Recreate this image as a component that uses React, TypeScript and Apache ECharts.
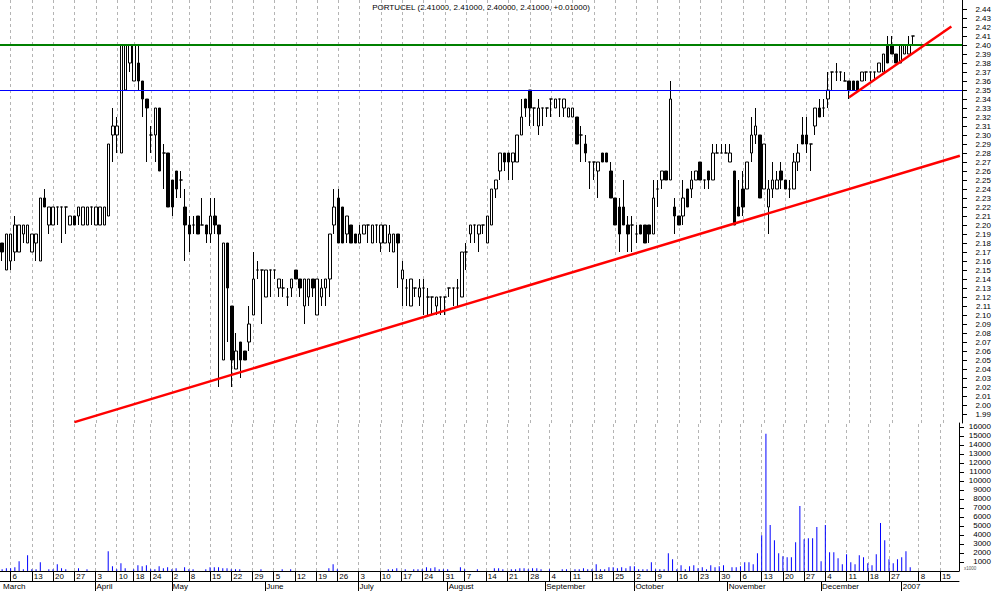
import React, { useEffect, useRef } from "react";
import * as echarts from "echarts";

const TITLE = "PORTUCEL (2.41000, 2.41000, 2.40000, 2.41000, +0.01000)";
const FIRST_DAY = "2006-03-02";
const LAST_DAY = "2007-01-19";
const HOLIDAYS = ["2006-04-14", "2006-04-17", "2006-05-01", "2006-12-25", "2006-12-26", "2007-01-01"];
const MONTH_NAMES = ["January", "February", "March", "April", "May", "June", "July", "August", "September", "October", "November", "December"];

const openP = [
  2.18,2.15,2.16,2.17,2.17,2.19,2.18,2.17,2.18,2.16,
  2.23,2.20,2.20,2.22,2.22,2.22,2.20,2.21,2.21,2.20,
  2.20,2.22,2.20,2.20,2.20,2.21,2.30,2.30,2.28,2.35,
  2.38,2.36,2.38,2.36,2.34,2.30,2.30,2.33,2.28,2.28,
  2.25,2.26,2.25,2.22,2.20,2.20,2.21,2.20,2.20,2.19,
  2.21,2.20,2.05,2.18,2.11,2.04,2.07,2.06,2.07,2.10,
  2.15,2.15,2.12,2.15,2.15,2.13,2.13,2.12,2.13,2.15,
  2.14,2.11,2.12,2.14,2.10,2.12,2.13,2.14,2.20,2.23,
  2.22,2.19,2.20,2.19,2.18,2.19,2.20,2.18,2.20,2.18,
  2.18,2.18,2.17,2.19,2.14,2.13,2.11,2.13,2.12,2.13,
  2.12,2.12,2.11,2.12,2.12,2.13,2.13,2.13,2.12,2.17,
  2.19,2.20,2.19,2.20,2.18,2.20,2.24,2.26,2.28,2.28,
  2.27,2.27,2.30,2.34,2.35,2.33,2.31,2.33,2.33,2.34,
  2.33,2.34,2.33,2.32,2.32,2.32,2.30,2.29,2.27,2.27,
  2.26,2.28,2.28,2.26,2.23,2.22,2.22,2.20,2.20,2.19,
  2.20,2.20,2.20,2.19,2.24,2.25,2.26,2.25,2.22,2.21,
  2.21,2.24,2.24,2.25,2.27,2.25,2.26,2.25,2.28,2.28,
  2.28,2.27,2.26,2.22,2.24,2.24,2.28,2.30,2.30,2.24,
  2.22,2.24,2.24,2.26,2.25,2.24,2.24,2.27,2.30,2.30,
  2.29,2.31,2.33,2.33,2.34,2.37,2.37,2.37,2.36,2.36,
  2.36,2.36,2.36,2.37,2.37,2.37,2.37,2.37,2.40,2.40,
  2.39,2.38,2.39,2.39,2.41,
];
const closeP = [
  2.17,2.19,2.19,2.20,2.20,2.20,2.20,2.19,2.19,2.23,
  2.22,2.22,2.22,2.22,2.22,2.22,2.21,2.20,2.22,2.22,
  2.22,2.22,2.22,2.22,2.22,2.29,2.31,2.31,2.40,2.40,
  2.40,2.40,2.36,2.34,2.33,2.30,2.33,2.26,2.28,2.22,
  2.22,2.24,2.25,2.20,2.19,2.20,2.19,2.20,2.19,2.21,
  2.20,2.19,2.18,2.13,2.05,2.06,2.05,2.05,2.09,2.14,
  2.15,2.15,2.15,2.15,2.15,2.14,2.13,2.12,2.14,2.14,
  2.13,2.14,2.14,2.13,2.14,2.13,2.14,2.19,2.22,2.18,
  2.18,2.21,2.18,2.18,2.19,2.20,2.20,2.20,2.20,2.20,
  2.20,2.19,2.19,2.18,2.15,2.13,2.14,2.13,2.13,2.13,
  2.12,2.12,2.12,2.12,2.12,2.13,2.13,2.13,2.17,2.17,
  2.20,2.20,2.20,2.20,2.21,2.24,2.25,2.28,2.27,2.27,
  2.28,2.30,2.32,2.33,2.33,2.33,2.33,2.33,2.33,2.34,
  2.34,2.34,2.34,2.33,2.33,2.29,2.30,2.28,2.27,2.27,
  2.27,2.27,2.27,2.23,2.20,2.19,2.20,2.19,2.20,2.19,
  2.19,2.18,2.19,2.23,2.24,2.26,2.25,2.34,2.21,2.20,
  2.23,2.22,2.25,2.26,2.25,2.25,2.25,2.28,2.28,2.28,
  2.28,2.28,2.20,2.21,2.22,2.27,2.30,2.31,2.23,2.29,
  2.24,2.25,2.25,2.25,2.24,2.24,2.27,2.28,2.29,2.29,
  2.29,2.33,2.32,2.33,2.35,2.37,2.37,2.37,2.36,2.35,
  2.35,2.35,2.37,2.37,2.37,2.37,2.38,2.39,2.38,2.39,
  2.38,2.40,2.40,2.40,2.41,
];
const lowP = [
  2.16,2.15,2.15,2.16,2.17,2.18,2.18,2.17,2.16,2.16,
  2.22,2.19,2.20,2.20,2.18,2.19,2.20,2.20,2.20,2.20,
  2.20,2.20,2.20,2.20,2.20,2.21,2.27,2.28,2.28,2.35,
  2.37,2.36,2.35,2.32,2.27,2.28,2.27,2.26,2.24,2.22,
  2.21,2.23,2.23,2.16,2.17,2.19,2.19,2.20,2.18,2.18,
  2.19,2.02,2.05,2.07,2.02,2.04,2.03,2.05,2.06,2.10,
  2.14,2.09,2.12,2.12,2.14,2.12,2.12,2.11,2.12,2.14,
  2.12,2.09,2.11,2.12,2.10,2.11,2.11,2.12,2.19,2.18,
  2.18,2.18,2.18,2.18,2.18,2.19,2.18,2.18,2.18,2.17,
  2.18,2.17,2.17,2.13,2.11,2.11,2.11,2.12,2.11,2.10,
  2.10,2.10,2.10,2.10,2.10,2.12,2.11,2.11,2.12,2.15,
  2.18,2.18,2.17,2.19,2.18,2.20,2.23,2.25,2.26,2.25,
  2.25,2.27,2.30,2.32,2.31,2.31,2.30,2.31,2.32,2.32,
  2.33,2.32,2.32,2.32,2.32,2.29,2.27,2.27,2.24,2.25,
  2.23,2.27,2.27,2.23,2.20,2.17,2.20,2.17,2.17,2.18,
  2.19,2.18,2.18,2.19,2.22,2.24,2.25,2.25,2.19,2.20,
  2.20,2.22,2.23,2.25,2.25,2.24,2.24,2.25,2.28,2.28,
  2.28,2.27,2.20,2.21,2.21,2.24,2.27,2.29,2.23,2.24,
  2.19,2.23,2.24,2.24,2.24,2.23,2.24,2.26,2.29,2.28,
  2.26,2.30,2.32,2.32,2.33,2.35,2.36,2.36,2.36,2.34,
  2.35,2.35,2.36,2.36,2.36,2.36,2.37,2.37,2.38,2.39,
  2.38,2.38,2.39,2.39,2.40,
];
const highP = [
  2.18,2.19,2.19,2.21,2.20,2.20,2.20,2.19,2.19,2.23,
  2.24,2.22,2.22,2.22,2.22,2.22,2.21,2.21,2.22,2.22,
  2.22,2.22,2.22,2.22,2.22,2.29,2.33,2.32,2.40,2.40,
  2.40,2.40,2.40,2.36,2.34,2.31,2.33,2.33,2.29,2.28,
  2.25,2.26,2.26,2.24,2.21,2.21,2.21,2.23,2.20,2.23,
  2.23,2.20,2.18,2.18,2.11,2.08,2.07,2.06,2.11,2.17,
  2.16,2.15,2.15,2.15,2.15,2.14,2.14,2.13,2.14,2.15,
  2.14,2.14,2.14,2.14,2.14,2.14,2.14,2.19,2.24,2.24,
  2.22,2.21,2.20,2.19,2.20,2.20,2.20,2.20,2.20,2.20,
  2.20,2.20,2.19,2.19,2.16,2.14,2.14,2.13,2.14,2.14,
  2.13,2.12,2.12,2.12,2.12,2.13,2.13,2.14,2.17,2.18,
  2.20,2.20,2.20,2.20,2.21,2.24,2.25,2.28,2.28,2.28,
  2.28,2.30,2.34,2.34,2.35,2.33,2.34,2.33,2.33,2.34,
  2.34,2.34,2.34,2.33,2.33,2.32,2.31,2.30,2.27,2.27,
  2.27,2.28,2.28,2.27,2.23,2.23,2.25,2.21,2.21,2.20,
  2.20,2.20,2.20,2.25,2.25,2.26,2.26,2.36,2.23,2.21,
  2.25,2.24,2.26,2.26,2.27,2.25,2.26,2.29,2.29,2.29,
  2.29,2.29,2.26,2.25,2.26,2.27,2.32,2.33,2.30,2.29,
  2.25,2.27,2.26,2.27,2.25,2.25,2.28,2.29,2.32,2.32,
  2.29,2.33,2.34,2.34,2.37,2.37,2.38,2.37,2.37,2.36,
  2.36,2.36,2.37,2.37,2.37,2.37,2.38,2.39,2.41,2.41,
  2.39,2.40,2.40,2.41,2.41,
];
const volume = [
  190,300,300,410,1080,190,1750,190,190,970,
  0,190,190,740,300,190,0,0,300,0,
  190,0,0,0,0,2200,520,190,860,300,
  0,190,630,520,630,190,190,520,300,410,
  190,300,0,410,190,190,0,0,190,410,
  410,410,300,300,190,190,190,0,0,0,
  0,190,0,0,0,0,190,0,190,0,
  0,0,0,0,0,0,0,300,740,190,
  0,0,0,0,0,0,0,0,0,0,
  0,190,190,300,0,190,0,190,190,190,
  410,300,410,190,190,190,0,0,410,190,
  0,0,190,0,0,0,300,300,190,0,
  190,190,300,300,190,300,300,190,0,190,
  0,0,190,190,0,190,190,300,190,190,
  740,190,190,410,410,300,410,300,520,520,
  190,190,190,970,190,190,190,1970,1300,190,
  630,190,520,630,300,410,190,630,410,520,
  630,0,410,410,520,970,970,740,1970,3980,
  15260,5100,3420,1970,1640,1530,1530,3200,7220,3540,
  3650,3650,4880,1080,5100,2080,2080,1410,740,1860,
  970,740,1750,1530,860,630,1860,5320,3420,1300,
  860,1300,1530,2200,410,
];

const RESISTANCE = 2.40;
const SUPPORT = 2.35;
const TREND_LONG: [string, number][] = [["2006-03-27", 1.981], ["2007-01-19", 2.277]];
const TREND_SHORT: [string, number][] = [["2006-12-11", 2.342], ["2007-01-17", 2.4205]];
const PRICE_MIN = 1.98;
const PRICE_MAX = 2.45;
const VOL_MAX = 16444;
const VOL_UNIT_NOTE = "x1000";

function tradingDays(first: string, last: string, holidays: string[]): string[] {
  const out: string[] = [];
  const d = new Date(first + "T00:00:00Z");
  const end = new Date(last + "T00:00:00Z");
  while (d.getTime() <= end.getTime()) {
    const dow = d.getUTCDay();
    const s = d.toISOString().slice(0, 10);
    if (dow !== 0 && dow !== 6 && holidays.indexOf(s) < 0) out.push(s);
    d.setUTCDate(d.getUTCDate() + 1);
  }
  return out;
}

function weekKey(s: string): number {
  const d = new Date(s + "T00:00:00Z");
  const dow = (d.getUTCDay() + 6) % 7;
  return Math.round(d.getTime() / 86400000) - dow;
}

const FONT = "'Liberation Sans', Arial, sans-serif";

export default function App() {
  const ref = useRef<HTMLDivElement>(null);
  useEffect(() => {
    if (!ref.current) return;
    const chart = echarts.init(ref.current, undefined, { renderer: "svg" });
    const days = tradingDays(FIRST_DAY, LAST_DAY, HOLIDAYS);
    const weekStart = new Set<number>();
    const monthStart = new Set<number>();
    days.forEach((s, i) => {
      if (i === 0) {
        monthStart.add(i);
        return;
      }
      const prev = days[i - 1];
      const newYear = s.slice(0, 4) !== prev.slice(0, 4);
      if (s.slice(0, 7) !== prev.slice(0, 7)) monthStart.add(i);
      if (weekKey(s) !== weekKey(prev) && !newYear) weekStart.add(i);
    });
    const weekDays = days.filter((_, i) => weekStart.has(i));
    const candles = openP.map((o, i) => [o, closeP[i], lowP[i], highP[i]]);
    const gridLine = {
      silent: true,
      symbol: ["none", "none"],
      z: 1,
      label: { show: false },
      emphasis: { disabled: true },
      lineStyle: { color: "#b4b4b4", type: [3, 3], width: 1 },
      data: weekDays.map((d) => ({ xAxis: d })),
    };
    const textBase = { fontSize: 8, fontFamily: FONT, color: "#000" };
    const option: any = {
      animation: false,
      backgroundColor: "#ffffff",
      grid: [
        { left: 0, top: 0, width: 962, height: 423 },
        { left: 0, top: 423, width: 962, height: 148 },
      ],
      xAxis: [
        { type: "category", gridIndex: 0, data: days, boundaryGap: true, show: false },
        {
          type: "category",
          gridIndex: 1,
          data: days,
          boundaryGap: true,
          position: "bottom",
          axisLine: { show: true, onZero: false, lineStyle: { color: "#000", width: 1 } },
          axisTick: {
            show: true,
            alignWithLabel: true,
            length: 10,
            interval: (i: number) => weekStart.has(i),
            lineStyle: { color: "#000" },
          },
          axisLabel: {
            ...textBase,
            interval: (i: number) => weekStart.has(i),
            formatter: (v: string) => String(Number(v.slice(8, 10))),
            align: "left",
            margin: 1,
            padding: [0, 0, 0, 2],
          },
          splitLine: { show: false },
        },
        {
          type: "category",
          gridIndex: 1,
          data: days,
          boundaryGap: true,
          position: "bottom",
          offset: 10,
          axisLine: { show: true, onZero: false, lineStyle: { color: "#000", width: 1 } },
          axisTick: {
            show: true,
            alignWithLabel: true,
            length: 10,
            interval: (i: number) => monthStart.has(i) && i > 0,
            lineStyle: { color: "#000" },
          },
          axisLabel: {
            ...textBase,
            interval: (i: number) => monthStart.has(i),
            formatter: (v: string) => {
              const m = Number(v.slice(5, 7)) - 1;
              return m === 0 ? v.slice(0, 4) : MONTH_NAMES[m];
            },
            align: "left",
            margin: 1,
            padding: [0, 0, 0, 1],
          },
          splitLine: { show: false },
        },
      ],
      yAxis: [
        {
          type: "value",
          gridIndex: 0,
          position: "right",
          min: PRICE_MIN,
          max: PRICE_MAX,
          interval: 0.01,
          scale: true,
          splitLine: { show: false },
          axisLine: { show: true, lineStyle: { color: "#000" } },
          axisTick: { show: true, length: 5, lineStyle: { color: "#000" } },
          axisLabel: {
            ...textBase,
            showMinLabel: false,
            showMaxLabel: false,
            formatter: (v: number) => v.toFixed(2),
            align: "right",
            margin: 29,
          },
        },
        {
          type: "value",
          gridIndex: 1,
          position: "right",
          min: 0,
          max: VOL_MAX,
          interval: 1000,
          splitLine: { show: false },
          axisLine: { show: true, lineStyle: { color: "#000" } },
          axisTick: { show: true, length: 5, lineStyle: { color: "#000" } },
          axisLabel: {
            ...textBase,
            showMinLabel: false,
            showMaxLabel: false,
            formatter: (v: number) => String(Math.round(v)),
            align: "right",
            margin: 32,
          },
        },
      ],
      graphic: [
        {
          type: "text",
          x: 481,
          y: 3,
          style: { text: TITLE, fill: "#000", fontSize: 8, fontFamily: FONT, align: "center", verticalAlign: "top" },
        },
        {
          type: "text",
          x: 964,
          y: 566,
          style: { text: VOL_UNIT_NOTE, fill: "#555", fontSize: 4.5, fontFamily: FONT, align: "left", verticalAlign: "top" },
        },
      ],
      series: [
        {
          type: "candlestick",
          xAxisIndex: 0,
          yAxisIndex: 0,
          data: candles,
          barWidth: 3,
          itemStyle: {
            color: "#ffffff",
            color0: "#000000",
            borderColor: "#000000",
            borderColor0: "#000000",
            borderColorDoji: "#000000",
            borderWidth: 1,
          },
          markLine: gridLine,
        },
        {
          type: "bar",
          xAxisIndex: 1,
          yAxisIndex: 1,
          data: volume,
          barWidth: 1,
          itemStyle: { color: "#0000ff" },
          markLine: gridLine,
        },
        {
          type: "line",
          xAxisIndex: 0,
          yAxisIndex: 0,
          data: TREND_LONG,
          symbol: "none",
          z: 4,
          lineStyle: { color: "#ff0000", width: 2.5 },
          markLine: {
            silent: true,
            symbol: ["none", "none"],
            z: 3,
            label: { show: false },
            data: [
              { yAxis: RESISTANCE, lineStyle: { color: "#008000", width: 2, type: "solid" } },
              { yAxis: SUPPORT, lineStyle: { color: "#0000ff", width: 1, type: "solid" } },
            ],
          },
        },
        {
          type: "line",
          xAxisIndex: 0,
          yAxisIndex: 0,
          data: TREND_SHORT,
          symbol: "none",
          z: 4,
          lineStyle: { color: "#ff0000", width: 2.5 },
        },
      ],
    };
    chart.setOption(option);
    return () => chart.dispose();
  }, []);
  return <div ref={ref} style={{ position: "fixed", left: 0, top: 0, width: 994, height: 591, background: "#fff" }} />;
}
